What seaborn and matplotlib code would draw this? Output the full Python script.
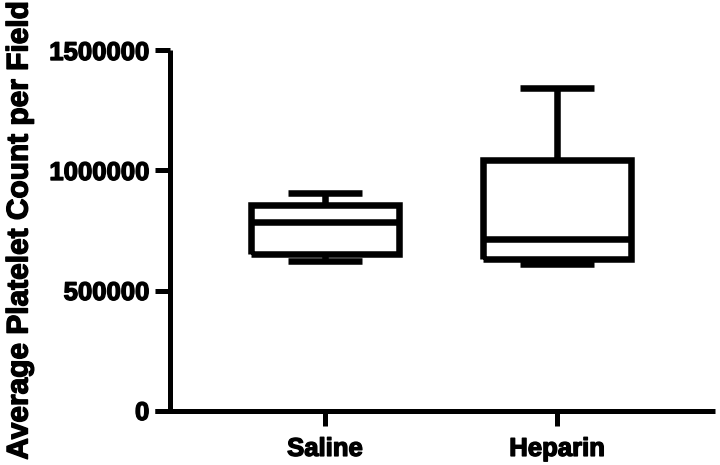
import matplotlib
matplotlib.use("Agg")
import matplotlib.pyplot as plt
import matplotlib.patheffects as pe
import seaborn as sns
import pandas as pd

# ==========================================
# DATA
# ==========================================
groups = ["Saline", "Heparin"]
saline_counts = [621000, 654000, 785000, 856000, 906000]
heparin_counts = [610000, 631000, 715000, 1042000, 1344000]
y_ticks = [0, 500000, 1000000, 1500000]

df = pd.DataFrame({
    "group": ["Saline"] * len(saline_counts) + ["Heparin"] * len(heparin_counts),
    "count": saline_counts + heparin_counts,
})

# ==========================================
# STYLE
# ==========================================
sns.set_theme(style="ticks")
plt.rcParams["font.family"] = ["Liberation Sans", "DejaVu Sans"]
plt.rcParams["font.weight"] = "bold"
plt.rcParams["lines.solid_joinstyle"] = "miter"

fig = plt.figure(figsize=(7.2, 4.65), dpi=100)
ax = fig.add_axes([155 / 720, (465 - 410.5) / 465, 560 / 720, 360 / 465])

# ==========================================
# BOX PLOT (whiskers = min to max)
# ==========================================
sns.boxplot(data=df, x="group", y="count", order=groups, whis=(0, 100),
            width=0.64, fill=False, color="black", linewidth=4.7,
            showfliers=False, ax=ax)

# square ends on caps / whiskers like the original
for line in ax.lines:
    line.set_solid_capstyle("butt")
    line.set_solid_joinstyle("miter")

ax.set_xlim(-0.733, 1.68)
ax.set_ylim(0, 1500000)
ax.set_yticks(y_ticks)
ax.set_yticklabels([str(t) for t in y_ticks])

sns.despine(ax=ax)
ax.spines["left"].set_position(("data", -0.668))
for side in ["left", "bottom"]:
    ax.spines[side].set_linewidth(3.6)
    ax.spines[side].set_color("black")
    ax.spines[side].set_capstyle("butt")

ax.tick_params(axis="both", length=11, width=3.6, color="black",
               labelsize=18.5, labelcolor="black", pad=4)
ax.tick_params(axis="x", pad=8)

# heavier text, the original uses a very bold face
heavy = [pe.withStroke(linewidth=1.0, foreground="black")]
for lbl in ax.get_xticklabels() + ax.get_yticklabels():
    lbl.set_fontweight("bold")
    lbl.set_path_effects(heavy)

ax.set_xlabel("")
ax.set_ylabel("Average Platelet Count per Field", fontsize=21.5,
              fontweight="bold", color="black", va="center")
ax.yaxis.label.set_path_effects(heavy)
ax.yaxis.set_label_coords((19.5 - 155) / 560, 0.5)

plt.savefig("out.png", dpi=100)
plt.close()
